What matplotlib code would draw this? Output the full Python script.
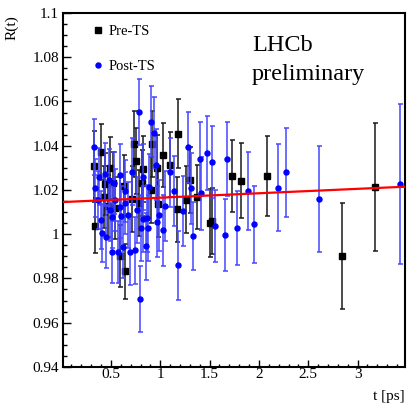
import numpy as np
import matplotlib
matplotlib.use("Agg")
import matplotlib.pyplot as plt
from matplotlib.lines import Line2D
from matplotlib.ticker import MultipleLocator

plt.rcParams['font.family'] = ['Liberation Serif', 'DejaVu Serif']

# Pre-TS points (black squares)
pre_t = [0.33, 0.34, 0.395, 0.432, 0.435, 0.466, 0.493, 0.52, 0.544, 0.587,
         0.628, 0.645, 0.713, 0.736, 0.75, 0.78, 0.81, 0.82, 0.905, 0.915,
         0.966, 0.977, 1.027, 1.10, 1.165, 1.175, 1.26, 1.30, 1.37, 1.50,
         1.52, 1.73, 1.82, 2.08, 2.84, 3.18]
pre_r = [1.0306, 1.0038, 1.0371, 1.0167, 1.0226, 1.0127, 1.0299, 1.0233, 1.0117, 0.9903,
         1.0220, 0.9832, 1.0159, 1.0409, 1.0332, 1.0141, 1.0230, 1.0295, 1.0200, 1.0408,
         1.0300, 1.0136, 1.0358, 1.0315, 1.0112, 1.0455, 1.0156, 1.0245, 1.0170, 1.0049,
         1.0060, 1.0264, 1.0242, 1.0264, 0.9900, 1.0214]
pre_err = [0.016, 0.0125, 0.0125, 0.014, 0.014, 0.014, 0.014, 0.014, 0.014, 0.014,
           0.014, 0.0125, 0.015, 0.015, 0.015, 0.015, 0.015, 0.015, 0.015, 0.015,
           0.015, 0.015, 0.0145, 0.0147, 0.0147, 0.0155, 0.015, 0.015, 0.0145, 0.0154,
           0.015, 0.0164, 0.017, 0.018, 0.024, 0.029]

# Post-TS points (blue circles)
post_t = [0.331, 0.34, 0.368, 0.375, 0.40, 0.41, 0.435, 0.45, 0.483, 0.49,
          0.51, 0.515, 0.527, 0.537, 0.571, 0.587, 0.594, 0.60, 0.62, 0.638,
          0.645, 0.67, 0.696, 0.713, 0.746, 0.76, 0.787, 0.797, 0.80, 0.82,
          0.83, 0.858, 0.865, 0.875, 0.89, 0.905, 0.94, 0.955, 0.966, 0.99,
          1.027, 1.05, 1.10, 1.14, 1.18, 1.23, 1.28, 1.31, 1.33, 1.40,
          1.41, 1.47, 1.52, 1.555, 1.66, 1.68, 1.78, 1.89, 1.95, 2.19,
          2.27, 2.61, 3.43]
post_r = [1.0394, 1.0208, 1.0155, 1.0260, 1.0064, 1.0006, 1.0273, 0.9988, 1.0245, 1.0109,
          0.9920, 1.0079, 1.0230, 1.0155, 0.9920, 1.0124, 1.0268, 1.0080, 0.9940, 1.0197,
          1.0140, 1.0086, 0.9920, 1.0283, 0.9927, 1.0109, 1.0551, 0.9708, 1.0029, 1.0068,
          1.0258, 0.9945, 1.0071, 1.0029, 1.0212, 1.0509, 1.0458, 1.0314, 1.0056, 1.0086,
          1.0018, 1.0127, 1.0279, 1.0195, 0.9859, 1.0105, 1.0392, 1.0208, 0.9992, 1.0342,
          1.0186, 1.0367, 1.0327, 1.0038, 0.9997, 1.0340, 1.0029, 1.0194, 1.0045, 1.0211,
          1.0279, 1.0159, 1.0227]
post_err = [0.0125, 0.013, 0.013, 0.013, 0.013, 0.013, 0.014, 0.014, 0.014, 0.014,
            0.014, 0.014, 0.014, 0.014, 0.014, 0.014, 0.014, 0.014, 0.014, 0.014,
            0.014, 0.015, 0.015, 0.015, 0.015, 0.015, 0.015, 0.015, 0.015, 0.015,
            0.015, 0.015, 0.015, 0.015, 0.015, 0.016, 0.016, 0.016, 0.016, 0.016,
            0.016, 0.016, 0.0155, 0.016, 0.0155, 0.016, 0.016, 0.016, 0.0155, 0.0165,
            0.0165, 0.0166, 0.0164, 0.0164, 0.0164, 0.0166, 0.0168, 0.0177, 0.0175, 0.0195,
            0.020, 0.024, 0.036]

# linear fit R(t) = p0 + p1 * t
fit_p0 = 1.0145
fit_p1 = 0.0020

xlim = (0.015, 3.48)
ylim = (0.94, 1.1)

fig = plt.figure(figsize=(4.07, 4.05), dpi=100)
ax = fig.add_axes([0.155, 0.094, 0.840, 0.874])

ax.errorbar(pre_t, pre_r, yerr=pre_err, fmt='s', color='black', ecolor='#1a1a1a',
            ms=3.8, elinewidth=1.1, capsize=1.8, capthick=1.1, zorder=3)
ax.errorbar(post_t, post_r, yerr=post_err, fmt='o', color='#0000ff', ecolor='#4646ff',
            ms=3.6, elinewidth=1.1, capsize=1.8, capthick=1.1, zorder=4)

tt = np.linspace(xlim[0], xlim[1], 50)
ax.plot(tt, fit_p0 + fit_p1 * tt, color='#ff0000', lw=1.6, zorder=5)

ax.set_xlim(*xlim)
ax.set_ylim(*ylim)
ax.xaxis.set_major_locator(MultipleLocator(0.5))
ax.xaxis.set_minor_locator(MultipleLocator(0.1))
ax.yaxis.set_major_locator(MultipleLocator(0.02))
ax.yaxis.set_minor_locator(MultipleLocator(0.005))
ax.set_yticks([0.94, 0.96, 0.98, 1.0, 1.02, 1.04, 1.06, 1.08, 1.1])
ax.set_yticklabels(['0.94', '0.96', '0.98', '1', '1.02', '1.04', '1.06', '1.08', '1.1'])
ax.set_xticks([0.5, 1, 1.5, 2, 2.5, 3])
ax.set_xticklabels(['0.5', '1', '1.5', '2', '2.5', '3'])

ax.tick_params(which='both', direction='in', top=False, right=False,
               labelsize=11, width=1.0)
ax.tick_params(axis='x', which='major', length=5, pad=1)
ax.tick_params(axis='x', which='minor', length=2.5)
ax.tick_params(axis='y', which='major', length=6, pad=3)
ax.tick_params(axis='y', which='minor', length=3)
for s in ax.spines.values():
    s.set_linewidth(1.5)

ax.text(1.0, -0.065, 't [ps]', transform=ax.transAxes, ha='right', va='top', fontsize=11)
fig.text(0.03, 0.962, 'R(t)', rotation=90, ha='center', va='top', fontsize=11)

ax.text(0.553, 0.937, 'LHCb\npreliminary', transform=ax.transAxes, ha='left', va='top',
        fontsize=17.5, linespacing=1.5)

handles = [Line2D([], [], ls='none', marker='s', color='black', ms=3.8),
           Line2D([], [], ls='none', marker='o', color='#0000ff', ms=3.6)]
ax.legend(handles, ['Pre-TS', 'Post-TS'], loc='upper left', bbox_to_anchor=(0.05, 1.0),
          frameon=False, fontsize=10.5, handlelength=0.8, handletextpad=0.35,
          labelspacing=1.5, borderpad=0.3)

fig.savefig('out.png', dpi=100)
